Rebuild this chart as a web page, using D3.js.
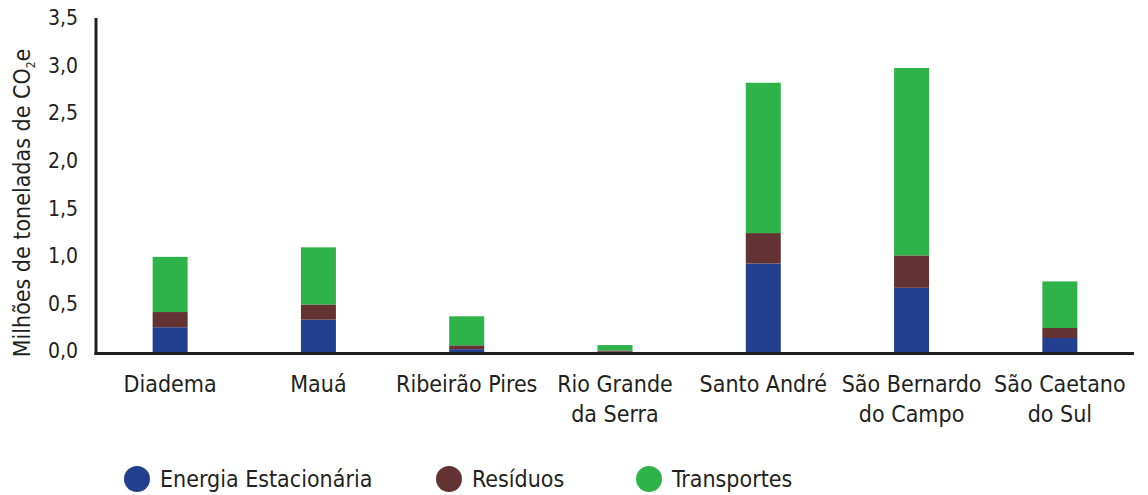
<!DOCTYPE html>
<html>
<head>
<meta charset="utf-8">
<script src="https://cdn.jsdelivr.net/npm/d3@7"></script>
<style>
  html, body { margin: 0; padding: 0; background: #fff; }
  svg { display: block; }
  text { font-family: "DejaVu Sans Condensed", "DejaVu Sans", sans-serif; fill: #231f20; }
</style>
</head>
<body>
<svg id="chart" width="1148" height="495"></svg>
<script>
const categories = ["Diadema", "Mauá", "Ribeirão Pires", "Rio Grande da Serra", "Santo André", "São Bernardo do Campo", "São Caetano do Sul"];
const categoryLines = [["Diadema"], ["Mauá"], ["Ribeirão Pires"], ["Rio Grande", "da Serra"], ["Santo André"], ["São Bernardo", "do Campo"], ["São Caetano", "do Sul"]];
const energiaEstacionaria = [0.26, 0.34, 0.03, 0.003, 0.93, 0.675, 0.147];
const residuos = [0.16, 0.16, 0.04, 0.013, 0.32, 0.34, 0.105];
const transportes = [0.58, 0.60, 0.305, 0.057, 1.58, 1.97, 0.49];
const seriesNames = ["Energia Estacionária", "Resíduos", "Transportes"];
const seriesColors = ["#233f8f", "#633232", "#2eb34b"];
const yTicks = [0, 0.5, 1, 1.5, 2, 2.5, 3, 3.5];

const svg = d3.select("#chart");
const x0 = 96, x1 = 1134, yBase = 352, yTop = 19;

const x = d3.scaleBand().domain(categories).range([x0, x1]).paddingInner(0.764).paddingOuter(0.382);
const y = d3.scaleLinear().domain([0, 3.5]).range([yBase, yTop]);

const rows = categories.map((c, i) => ({ cat: c, e: energiaEstacionaria[i], r: residuos[i], t: transportes[i] }));
const stack = d3.stack().keys(["e", "r", "t"]);
const stacked = stack(rows);

svg.append("g").selectAll("g").data(stacked).join("g")
  .attr("fill", (d, i) => seriesColors[i])
  .selectAll("rect").data(d => d).join("rect")
  .attr("x", d => x(d.data.cat))
  .attr("width", x.bandwidth())
  .attr("y", d => y(d[1]))
  .attr("height", d => y(d[0]) - y(d[1]));

// axis lines
svg.append("line").attr("x1", x0).attr("x2", x0).attr("y1", 18).attr("y2", yBase + 3)
  .attr("stroke", "#231f20").attr("stroke-width", 3);
svg.append("line").attr("x1", x0 - 1.5).attr("x2", x1).attr("y1", yBase + 1.5).attr("y2", yBase + 1.5)
  .attr("stroke", "#231f20").attr("stroke-width", 3);

// y axis labels
const yAxis = d3.axisLeft(y).tickValues(yTicks).tickSize(0).tickPadding(0)
  .tickFormat(d => d3.format(".1f")(d).replace(".", ","));
const gy = svg.append("g").attr("transform", "translate(78,-1)").call(yAxis);
gy.select(".domain").remove();
gy.attr("font-family", null).attr("font-size", null);
gy.selectAll("text").attr("font-size", 21).attr("fill", "#231f20");

// x axis labels
const xAxis = d3.axisBottom(x).tickSize(0).tickFormat("");
const gx = svg.append("g").attr("transform", `translate(0,${yBase})`).call(xAxis);
gx.select(".domain").remove();
gx.attr("font-family", null).attr("font-size", null);
gx.selectAll(".tick").each(function(d, i) {
  const t = d3.select(this).append("text").attr("text-anchor", "middle").attr("font-size", 23).attr("fill", "#231f20");
  categoryLines[i].forEach((line, j) => {
    t.append("tspan").attr("x", 0).attr("y", 40 + j * 30).text(line);
  });
});

// y title
const title = svg.append("text")
  .attr("transform", "translate(30,203) rotate(-90)")
  .attr("text-anchor", "middle").attr("font-size", 23);
title.append("tspan").text("Milhões de toneladas de CO");
title.append("tspan").attr("font-size", 12).attr("dy", 5).text("2");
title.append("tspan").attr("dy", -5).text("e");

// legend
const legendX = [137, 449, 649];
const lg = svg.append("g").selectAll("g").data(seriesNames).join("g")
  .attr("transform", (d, i) => `translate(${legendX[i]},479)`);
lg.append("circle").attr("r", 13).attr("fill", (d, i) => seriesColors[i]);
lg.append("text").attr("x", 23).attr("y", 8).attr("font-size", 23).text(d => d);
</script>
</body>
</html>
